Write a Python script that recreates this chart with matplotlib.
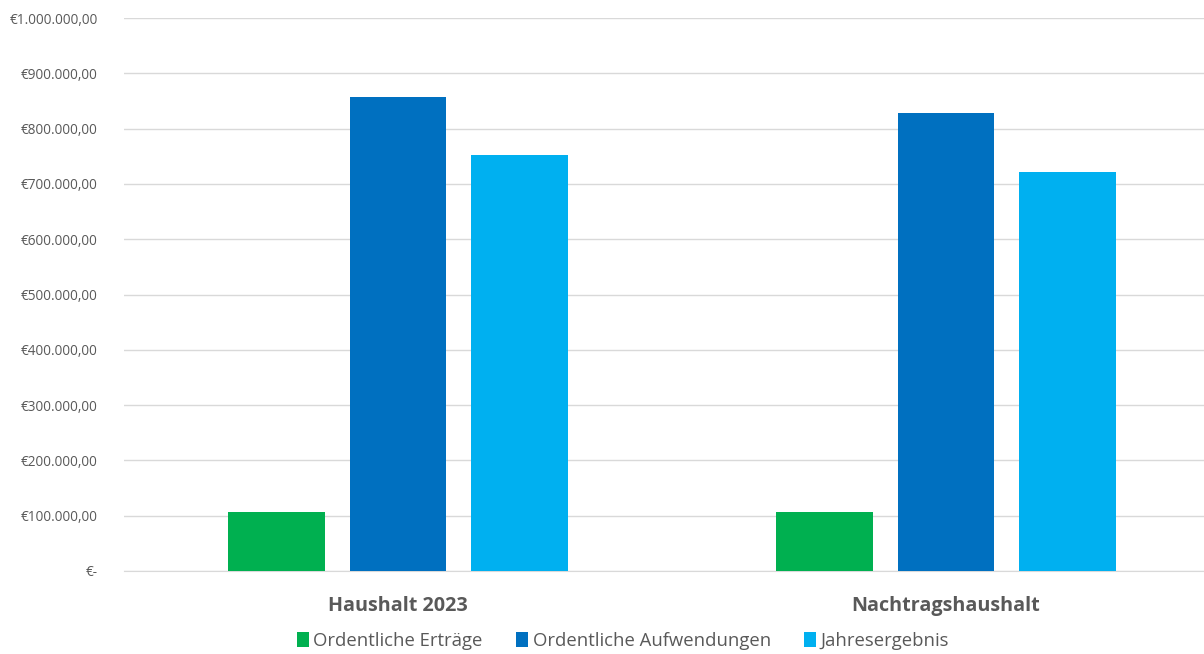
import matplotlib.pyplot as plt
import matplotlib.ticker as mticker
import numpy as np

plt.rcParams['font.family'] = ['Open Sans', 'DejaVu Sans']

categories = ['Haushalt 2023', 'Nachtragshaushalt']
series_names = ['Ordentliche Erträge', 'Ordentliche Aufwendungen', 'Jahresergebnis']
ertraege = [106700, 106700]
aufwendungen = [858000, 828000]
jahresergebnis = [752000, 721500]
colors = ['#00B050', '#0070C0', '#00B0F0']

def euro(v, pos):
    if v == 0:
        return '€-'
    s = f'{v:,.2f}'.replace(',', 'X').replace('.', ',').replace('X', '.')
    return '€' + s

fig = plt.figure(figsize=(12.04, 6.54), dpi=100)
ax = fig.add_axes([124 / 1204, (654 - 571) / 654, 1 - 124 / 1204, (571 - 18) / 654])

x = np.arange(len(categories))
w = 0.177
step = 0.221
for i, (vals, name) in enumerate(zip([ertraege, aufwendungen, jahresergebnis], series_names)):
    ax.bar(x + (i - 1) * step, vals, width=w, color=colors[i], label=name, zorder=3)

ax.set_ylim(0, 1000000)
ax.set_xlim(-0.5, 1.5 - 16 / 548)
ax.yaxis.set_major_locator(mticker.MultipleLocator(100000))
ax.yaxis.set_major_formatter(mticker.FuncFormatter(euro))
ax.grid(axis='y', color='#D9D9D9', linewidth=1, zorder=0)
for s in ['top', 'right', 'left']:
    ax.spines[s].set_visible(False)
ax.spines['bottom'].set_color('#D9D9D9')
ax.tick_params(axis='y', length=0, labelsize=9.8, labelcolor='#595959', pad=19)
ax.tick_params(axis='x', length=0, labelsize=14.2, labelcolor='#595959', pad=18)
ax.set_xticks(x)
ax.set_xticklabels(categories, fontweight='bold')

ax.legend(loc='center', bbox_to_anchor=(0.5 - 41 / 1080, -(641 - 571) / 553), ncol=3, frameon=False,
          fontsize=13.3, labelcolor='#595959', handlelength=0.65, handleheight=0.9,
          handletextpad=0.25, columnspacing=1.8)

fig.savefig('out.png', dpi=100)
